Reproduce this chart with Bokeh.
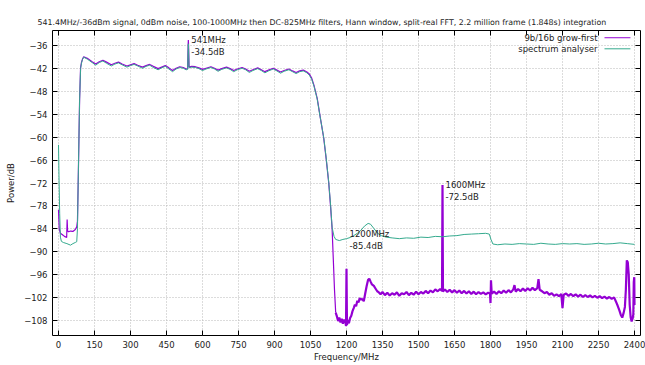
from bokeh.plotting import figure
from bokeh.models import FixedTicker, LinearAxis, Label, Arrow, Range1d, CustomJSTickFormatter
from bokeh.embed import file_html
from bokeh.resources import INLINE

TITLE = ("541.4MHz/-36dBm signal, 0dBm noise, 100-1000MHz then DC-825MHz filters, "
         "Hann window, split-real FFT, 2.2 million frame (1.848s) integration")

series_names = ["9b/16b grow-first", "spectrum analyser"]
x_ticks = [0, 150, 300, 450, 600, 750, 900, 1050, 1200, 1350, 1500, 1650, 1800, 1950, 2100, 2250, 2400]
y_ticks = [-108, -102, -96, -90, -84, -78, -72, -66, -60, -54, -48, -42, -36]

# annotated peaks
peak_freq = [541, 1200, 1600]
peak_db = [-34.5, -85.4, -72.5]

# ---- purple series (9b/16b grow-first): (MHz, dB)
purple_low = [(0, -79), (3, -84), (8, -85.2), (15, -85.5), (25, -86.0), (34, -86.3), (36, -81.6),
              (38, -84.6), (42, -84.8), (50, -84.6), (60, -84.7), (70, -84.2), (76, -83.5),
              (79, -82.0), (82, -72.0), (85, -61.0), (88, -50.0), (92, -41.7), (96, -40.3),
              (100, -39.5)]
purple_pass = [(105, -38.9), (120, -39.3), (140, -40.2), (155, -40.8), (170, -40.2), (185, -39.8),
               (200, -40.3), (220, -41.0), (235, -40.6), (250, -40.3), (265, -40.8), (285, -41.3),
               (300, -41.0), (315, -40.7), (330, -41.1), (350, -41.6), (365, -41.2), (380, -40.9),
               (395, -41.4), (415, -42.0), (430, -41.6), (445, -41.2), (460, -41.8), (475, -42.5),
               (490, -41.9), (505, -41.5), (520, -41.7), (532, -42.1), (538, -42.0), (540, -36.0),
               (541, -34.5), (542, -36.0), (544, -41.6), (555, -41.4), (570, -41.5), (585, -41.8),
               (600, -42.2), (615, -41.9), (635, -41.5), (650, -41.9), (665, -42.4), (680, -42.0),
               (700, -41.6), (715, -42.0), (730, -42.5), (745, -42.1), (765, -41.7), (780, -42.1),
               (795, -42.7), (810, -42.3), (830, -41.8), (845, -42.3), (860, -42.8), (875, -42.4),
               (895, -41.9), (910, -42.4), (925, -42.9), (940, -42.5), (960, -42.1), (975, -42.6),
               (990, -43.0), (1005, -42.6), (1020, -42.4), (1035, -42.9), (1045, -43.4),
               (1055, -44.5), (1065, -46.5), (1078, -49.8), (1090, -54.5), (1105, -60.2),
               (1115, -65.5), (1126, -72.0), (1134, -78.5), (1140, -84.0), (1145, -92.0),
               (1150, -100.0), (1155, -106.0)]
purple_stop = [(1155, -106.0), (1160, -107.0), (1165, -108.2), (1170, -107.3), (1175, -108.6), (1180, -107.6),
               (1185, -108.9), (1190, -107.8), (1195, -108.4), (1198, -109.5), (1200, -94.5),
               (1202, -109.3), (1205, -107.9), (1210, -108.8), (1215, -107.4), (1220, -106.8),
               (1225, -105.6), (1230, -104.8), (1235, -103.9), (1240, -104.3), (1245, -102.9),
               (1250, -103.3), (1255, -102.2), (1260, -102.6), (1265, -102.4), (1272, -103.0),
               (1278, -101.0), (1284, -99.0), (1290, -97.4), (1295, -97.1), (1300, -97.8),
               (1306, -98.6), (1314, -99.0), (1320, -99.6), (1328, -100.4), (1335, -100.7),
               (1342, -101.2), (1350, -100.6), (1360, -101.4), (1370, -100.8), (1380, -101.5),
               (1390, -100.9), (1400, -101.3), (1410, -100.7), (1420, -101.6), (1430, -100.9),
               (1440, -101.2), (1450, -100.6), (1460, -101.4), (1470, -100.8), (1480, -101.3),
               (1490, -100.5), (1500, -101.2), (1510, -100.6), (1520, -101.0), (1530, -100.3),
               (1540, -100.9), (1550, -100.2), (1560, -100.7), (1570, -99.9), (1580, -100.4),
               (1590, -99.8), (1598, -100.3), (1600, -72.5), (1602, -100.5), (1610, -99.9),
               (1620, -100.6), (1630, -100.0), (1640, -100.7), (1650, -100.1), (1660, -100.8),
               (1670, -100.2), (1680, -100.9), (1690, -100.3), (1700, -101.0), (1710, -100.4),
               (1720, -101.1), (1730, -100.5), (1740, -101.2), (1750, -100.6), (1760, -101.1),
               (1770, -100.7), (1780, -101.2), (1790, -100.8), (1798, -101.0), (1800, -103.5),
               (1802, -97.5), (1805, -101.0), (1815, -100.5), (1825, -101.1), (1835, -100.4),
               (1845, -100.9), (1855, -100.2), (1865, -100.8), (1875, -100.1), (1885, -100.7),
               (1895, -99.9), (1900, -98.8), (1905, -100.5), (1915, -99.8), (1925, -100.4),
               (1935, -99.7), (1945, -100.3), (1955, -99.6), (1965, -100.2), (1975, -99.5),
               (1985, -100.1), (1995, -99.6), (2000, -97.2), (2005, -100.0), (2015, -100.4),
               (2025, -100.9), (2035, -100.6), (2045, -101.3), (2055, -100.9), (2065, -101.6),
               (2075, -101.2), (2085, -101.7), (2095, -101.1), (2100, -104.8), (2105, -101.3),
               (2115, -101.0), (2125, -101.6), (2135, -101.1), (2145, -101.7), (2155, -101.2),
               (2165, -101.8), (2175, -101.3), (2185, -101.9), (2195, -101.4), (2205, -101.9),
               (2215, -101.5), (2225, -102.0), (2235, -101.6), (2245, -102.1), (2255, -101.7),
               (2265, -102.2), (2275, -101.8), (2285, -102.3), (2295, -101.9), (2305, -102.4),
               (2315, -102.0), (2322, -103.0), (2330, -104.2), (2337, -105.4), (2343, -106.6),
               (2349, -107.3), (2355, -106.0), (2360, -104.5), (2364, -100.0), (2368, -92.3),
               (2372, -92.8), (2376, -96.0), (2380, -104.0), (2384, -107.2), (2388, -108.3),
               (2392, -107.6), (2395, -106.5), (2397, -98.0), (2399, -96.7), (2400, -104.0)]

# ---- green series (spectrum analyser): (MHz, dB)
green_low = [(0, -62.0), (2, -70.0), (5, -80.0), (8, -86.2), (12, -87.3), (20, -87.6), (35, -87.9),
             (50, -88.3), (60, -87.9), (70, -87.6), (76, -87.4), (79, -84.0), (82, -72.0),
             (85, -61.0), (88, -50.0), (92, -42.0), (96, -40.5), (100, -39.6)]
green_pass = [(105, -39.0), (120, -39.5), (140, -40.4), (155, -41.1), (170, -40.4), (185, -40.0),
              (200, -40.6), (220, -41.3), (235, -40.8), (250, -40.5), (265, -41.0), (285, -41.6),
              (300, -41.2), (315, -40.9), (330, -41.3), (350, -41.9), (365, -41.4), (380, -41.1),
              (395, -41.7), (415, -42.3), (430, -41.8), (445, -41.4), (460, -42.1), (475, -42.8),
              (490, -42.1), (505, -41.7), (520, -41.9), (532, -42.3), (538, -42.2), (540, -37.0),
              (541, -35.5), (542, -37.0), (544, -41.8), (555, -41.6), (570, -41.7), (585, -42.0),
              (600, -42.5), (615, -42.1), (635, -41.7), (650, -42.1), (665, -42.7), (680, -42.2),
              (700, -41.8), (715, -42.2), (730, -42.8), (745, -42.3), (765, -41.9), (780, -42.3),
              (795, -43.0), (810, -42.5), (830, -42.0), (845, -42.5), (860, -43.1), (875, -42.6),
              (895, -42.1), (910, -42.6), (925, -43.2), (940, -42.7), (960, -42.3), (975, -42.8),
              (990, -43.3), (1005, -42.8), (1020, -42.6), (1035, -43.1), (1045, -43.7),
              (1055, -44.8), (1065, -46.7), (1078, -50.0), (1090, -54.6), (1105, -60.0),
              (1115, -65.2), (1126, -71.8), (1134, -78.0), (1140, -83.6), (1148, -86.0)]
green_stop = [(1155, -86.8), (1170, -87.1), (1185, -86.8), (1200, -86.6), (1215, -86.3),
              (1230, -85.8), (1245, -85.2), (1260, -84.4), (1275, -83.3), (1290, -82.6),
              (1300, -82.8), (1315, -84.0), (1330, -85.2), (1345, -85.8), (1365, -86.2),
              (1390, -86.4), (1420, -86.6), (1450, -86.4), (1480, -86.5), (1510, -86.2),
              (1540, -86.3), (1570, -86.0), (1600, -86.1), (1630, -85.9), (1660, -85.8),
              (1690, -85.5), (1720, -85.4), (1750, -85.3), (1780, -85.2), (1795, -85.4),
              (1802, -86.8), (1810, -88.0), (1830, -88.2), (1860, -88.0), (1890, -88.1),
              (1920, -87.9), (1950, -88.0), (1980, -88.1), (2010, -87.8), (2040, -88.0),
              (2070, -88.1), (2100, -87.9), (2130, -88.0), (2160, -87.9), (2190, -88.1),
              (2220, -88.0), (2250, -87.8), (2280, -88.0), (2310, -87.9), (2340, -87.7),
              (2370, -87.9), (2400, -88.1)]

pur_main = purple_low + purple_pass
pur_freq = [a for a, b in pur_main]
pur_db = [b for a, b in pur_main]
pur_stop_freq = [a for a, b in purple_stop]
pur_stop_db = [b for a, b in purple_stop]
green = green_low + green_pass + green_stop
grn_freq = [a for a, b in green]
grn_db = [b for a, b in green]

FONT = "DejaVu Sans"
PURPLE = "#9400d3"
GREEN = "#35aa8e"
TXT = "#222222"

p = figure(width=645, height=365, output_backend="svg", toolbar_location=None,
           x_range=Range1d(-25, 2425), y_range=Range1d(-112, -32),
           min_border_left=52, min_border_right=5, min_border_top=30, min_border_bottom=30)

p.title.text = TITLE
p.title.text_font = FONT
p.title.text_font_size = "7.85px"
p.title.text_font_style = "normal"
p.title.align = "left"
p.title.offset = -15
p.title.text_color = TXT
p.title.standoff = 8

p.outline_line_color = "black"
p.outline_line_width = 1
p.background_fill_color = "white"
p.border_fill_color = "white"

for ax in (p.xaxis[0], p.yaxis[0]):
    ax.major_tick_in = 5
    ax.major_tick_out = 0
    ax.minor_tick_in = 0
    ax.minor_tick_out = 0
    ax.axis_line_color = None
    ax.major_tick_line_color = "black"
    ax.major_label_text_font = FONT
    ax.major_label_text_font_size = "8.5px"
    ax.major_label_text_color = TXT
    ax.axis_label_text_font = FONT
    ax.axis_label_text_font_size = "8.5px"
    ax.axis_label_text_font_style = "normal"
    ax.axis_label_text_color = TXT

p.xaxis.ticker = FixedTicker(ticks=x_ticks)
p.yaxis.ticker = FixedTicker(ticks=y_ticks)
p.xaxis.axis_label = "Frequency/MHz"
p.yaxis.axis_label = "Power/dB"
p.xaxis.major_label_standoff = 5
p.xaxis.axis_label_standoff = 1
p.yaxis.major_label_standoff = 5
p.yaxis.axis_label_standoff = 5

# mirrored ticks on top and right (no labels)
blank = CustomJSTickFormatter(code="return ''")
top = LinearAxis(ticker=FixedTicker(ticks=x_ticks), formatter=blank,
                 axis_line_color=None, major_tick_in=5, major_tick_out=0,
                 minor_tick_in=0, minor_tick_out=0, major_label_standoff=0)
right = LinearAxis(ticker=FixedTicker(ticks=y_ticks), formatter=blank,
                   axis_line_color=None, major_tick_in=5, major_tick_out=0,
                   minor_tick_in=0, minor_tick_out=0, major_label_standoff=0)
p.add_layout(top, "above")
p.add_layout(right, "right")

p.xgrid.ticker = FixedTicker(ticks=x_ticks)
p.ygrid.ticker = FixedTicker(ticks=y_ticks)
for g in (p.xgrid[0], p.ygrid[0]):
    g.grid_line_color = "#b8b8b8"
    g.grid_line_dash = "1 2"
    g.grid_line_width = 1

p.line(pur_freq, pur_db, color=PURPLE, line_width=1.2)
p.line(pur_stop_freq, pur_stop_db, color=PURPLE, line_width=2.2)
p.line(grn_freq, grn_db, color=GREEN, line_width=1.0)

# peak annotations
for f, d in zip(peak_freq, peak_db):
    p.add_layout(Label(x=f, y=d, text=f"{f}MHz", x_offset=3, text_baseline="middle",
                       text_font=FONT, text_font_size="8.5px", text_color=TXT))
    p.add_layout(Label(x=f, y=d, text=f"{d}dB", x_offset=3, y_offset=-12, text_baseline="middle",
                       text_font=FONT, text_font_size="8.5px", text_color=TXT))

# key (top right, gnuplot style: text then line sample)
key_y = [-33.9, -36.8]
key_colors = [PURPLE, GREEN]
for name, ky, col in zip(series_names, key_y, key_colors):
    p.add_layout(Label(x=2246, y=ky, text=name, text_align="right", text_baseline="middle",
                       text_font=FONT, text_font_size="8.5px", text_color=TXT))
    p.add_layout(Arrow(end=None, x_start=2275, y_start=ky, x_end=2383, y_end=ky,
                       line_color=col, line_width=1))

open("out.html", "w").write(file_html(p, INLINE))
